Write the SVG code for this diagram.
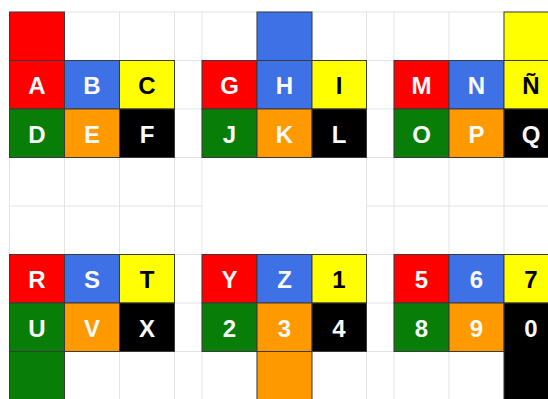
<svg xmlns="http://www.w3.org/2000/svg" width="548" height="399" viewBox="0 0 548 399">
<style>
.grid line{stroke:#e3e3e3;stroke-width:1}
.c rect{stroke:#3a3a3a;stroke-width:1}
.r{fill:#ff0000}.b{fill:#3f71e6}.y{fill:#ffff00}.g{fill:#087d08}.o{fill:#ff9900}.k{fill:#000000}
text{font-family:"Liberation Sans",Arial,sans-serif;font-weight:bold;font-size:24px;text-anchor:middle;fill:#fafafa}
text.d{fill:#000}
</style>
<rect width="548" height="399" fill="#fff"/>
<g class="grid" id="grid">
<line x1="9.5" y1="12" x2="548" y2="12"/>
<line x1="9.5" y1="60.5" x2="548" y2="60.5"/>
<line x1="9.5" y1="109" x2="548" y2="109"/>
<line x1="9.5" y1="157.5" x2="548" y2="157.5"/>
<line x1="9.5" y1="206" x2="548" y2="206"/>
<line x1="9.5" y1="254.5" x2="548" y2="254.5"/>
<line x1="9.5" y1="303" x2="548" y2="303"/>
<line x1="9.5" y1="351.5" x2="548" y2="351.5"/>
<line x1="9.5" y1="12" x2="9.5" y2="399"/>
<line x1="64.5" y1="12" x2="64.5" y2="399"/>
<line x1="119.5" y1="12" x2="119.5" y2="399"/>
<line x1="174.5" y1="12" x2="174.5" y2="399"/>
<line x1="202" y1="12" x2="202" y2="399"/>
<line x1="257" y1="12" x2="257" y2="399"/>
<line x1="312" y1="12" x2="312" y2="399"/>
<line x1="366.5" y1="12" x2="366.5" y2="399"/>
<line x1="394" y1="12" x2="394" y2="399"/>
<line x1="449" y1="12" x2="449" y2="399"/>
<line x1="504" y1="12" x2="504" y2="399"/>
<rect x="202.5" y="158" width="163.5" height="96" fill="#fff"/>
</g>
<g id="connectors"></g>
<g id="group1" class="c">
<g id="top-red"><rect class="r" x="9.5" y="12" width="55" height="48.5"/></g>
<g id="cell-A"><rect class="r" x="9.5" y="60.5" width="55" height="48.5"/><text x="37" y="94">A</text></g>
<g id="cell-B"><rect class="b" x="64.5" y="60.5" width="55" height="48.5"/><text x="92" y="94">B</text></g>
<g id="cell-C"><rect class="y" x="119.5" y="60.5" width="55" height="48.5"/><text class="d" x="147" y="94">C</text></g>
<g id="cell-D"><rect class="g" x="9.5" y="109" width="55" height="48.5"/><text x="37" y="142.5">D</text></g>
<g id="cell-E"><rect class="o" x="64.5" y="109" width="55" height="48.5"/><text x="92" y="142.5">E</text></g>
<g id="cell-F"><rect class="k" x="119.5" y="109" width="55" height="48.5"/><text x="147" y="142.5">F</text></g>
</g>
<g id="group2" class="c">
<g id="top-blue"><rect class="b" x="257" y="12" width="55" height="48.5"/></g>
<g id="cell-G"><rect class="r" x="202" y="60.5" width="55" height="48.5"/><text x="229.5" y="94">G</text></g>
<g id="cell-H"><rect class="b" x="257" y="60.5" width="55" height="48.5"/><text x="284.5" y="94">H</text></g>
<g id="cell-I"><rect class="y" x="312" y="60.5" width="54.5" height="48.5"/><text class="d" x="339" y="94">I</text></g>
<g id="cell-J"><rect class="g" x="202" y="109" width="55" height="48.5"/><text x="229.5" y="142.5">J</text></g>
<g id="cell-K"><rect class="o" x="257" y="109" width="55" height="48.5"/><text x="284.5" y="142.5">K</text></g>
<g id="cell-L"><rect class="k" x="312" y="109" width="54.5" height="48.5"/><text x="339" y="142.5">L</text></g>
</g>
<g id="group3" class="c">
<g id="top-yellow"><rect class="y" x="504" y="12" width="55" height="48.5"/></g>
<g id="cell-M"><rect class="r" x="394" y="60.5" width="55" height="48.5"/><text x="421.5" y="94">M</text></g>
<g id="cell-N"><rect class="b" x="449" y="60.5" width="55" height="48.5"/><text x="476.5" y="94">N</text></g>
<g id="cell-Ñ"><rect class="y" x="504" y="60.5" width="55" height="48.5"/><text class="d" x="531" y="94">Ñ</text></g>
<g id="cell-O"><rect class="g" x="394" y="109" width="55" height="48.5"/><text x="421.5" y="142.5">O</text></g>
<g id="cell-P"><rect class="o" x="449" y="109" width="55" height="48.5"/><text x="476.5" y="142.5">P</text></g>
<g id="cell-Q"><rect class="k" x="504" y="109" width="55" height="48.5"/><text x="531" y="142.5">Q</text></g>
</g>
<g id="group4" class="c">
<g id="cell-R"><rect class="r" x="9.5" y="254.5" width="55" height="48.5"/><text x="37" y="288">R</text></g>
<g id="cell-S"><rect class="b" x="64.5" y="254.5" width="55" height="48.5"/><text x="92" y="288">S</text></g>
<g id="cell-T"><rect class="y" x="119.5" y="254.5" width="55" height="48.5"/><text class="d" x="147" y="288">T</text></g>
<g id="cell-U"><rect class="g" x="9.5" y="303" width="55" height="48.5"/><text x="37" y="336.5">U</text></g>
<g id="cell-V"><rect class="o" x="64.5" y="303" width="55" height="48.5"/><text x="92" y="336.5">V</text></g>
<g id="cell-X"><rect class="k" x="119.5" y="303" width="55" height="48.5"/><text x="147" y="336.5">X</text></g>
<g id="bottom-green"><rect class="g" x="9.5" y="351.5" width="55" height="50"/></g>
</g>
<g id="group5" class="c">
<g id="cell-Y"><rect class="r" x="202" y="254.5" width="55" height="48.5"/><text x="229.5" y="288">Y</text></g>
<g id="cell-Z"><rect class="b" x="257" y="254.5" width="55" height="48.5"/><text x="284.5" y="288">Z</text></g>
<g id="cell-1"><rect class="y" x="312" y="254.5" width="54.5" height="48.5"/><text class="d" x="339" y="288">1</text></g>
<g id="cell-2"><rect class="g" x="202" y="303" width="55" height="48.5"/><text x="229.5" y="336.5">2</text></g>
<g id="cell-3"><rect class="o" x="257" y="303" width="55" height="48.5"/><text x="284.5" y="336.5">3</text></g>
<g id="cell-4"><rect class="k" x="312" y="303" width="54.5" height="48.5"/><text x="339" y="336.5">4</text></g>
<g id="bottom-orange"><rect class="o" x="257" y="351.5" width="55" height="50"/></g>
</g>
<g id="group6" class="c">
<g id="cell-5"><rect class="r" x="394" y="254.5" width="55" height="48.5"/><text x="421.5" y="288">5</text></g>
<g id="cell-6"><rect class="b" x="449" y="254.5" width="55" height="48.5"/><text x="476.5" y="288">6</text></g>
<g id="cell-7"><rect class="y" x="504" y="254.5" width="55" height="48.5"/><text class="d" x="531" y="288">7</text></g>
<g id="cell-8"><rect class="g" x="394" y="303" width="55" height="48.5"/><text x="421.5" y="336.5">8</text></g>
<g id="cell-9"><rect class="o" x="449" y="303" width="55" height="48.5"/><text x="476.5" y="336.5">9</text></g>
<g id="cell-0"><rect class="k" x="504" y="303" width="55" height="98"/><text x="531" y="336.5">0</text></g>
</g>
</svg>
